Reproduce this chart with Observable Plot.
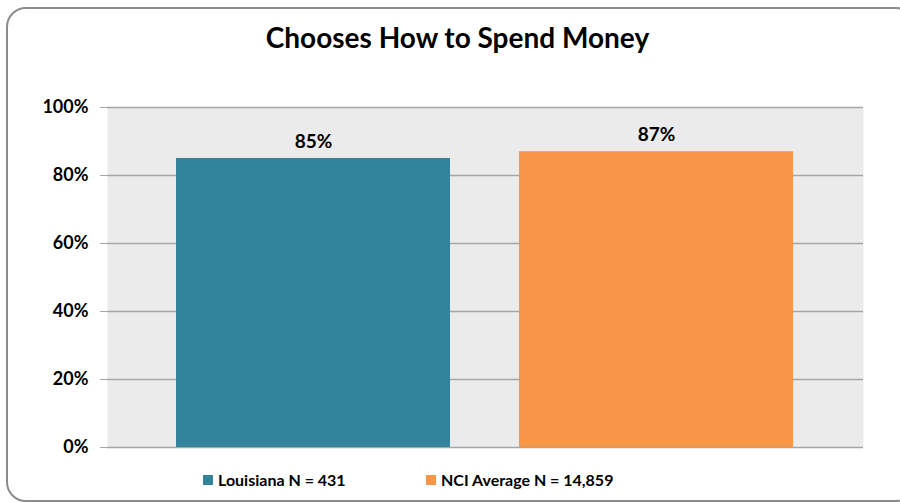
<!DOCTYPE html>
<html>
<head>
<meta charset="utf-8">
<script src="https://cdn.jsdelivr.net/npm/d3@7"></script>
<script src="https://cdn.jsdelivr.net/npm/@observablehq/plot@0.6"></script>
<style>
  html, body { margin: 0; padding: 0; background: #fff; }
  #wrap { position: relative; width: 900px; height: 503px; overflow: hidden; font-family: Lato, "Open Sans", sans-serif; }
  #border { position: absolute; left: 6px; top: 7px; width: 910px; height: 495px; border: 2px solid #8c8c8c; border-radius: 20px; box-sizing: border-box; }
  #title { position: absolute; left: 0; width: 915px; top: 20px; text-align: center; font-weight: 700; font-size: 28px; color: #000; }
  #chart { position: absolute; left: 0; top: 0; }
  #legend { position: absolute; top: 470px; left: 0; width: 900px; font-weight: 700; font-size: 16px; color: #000; }
  .item { position: absolute; display: flex; align-items: center; white-space: nowrap; }
  .sw { width: 10px; height: 10px; margin-right: 5px; display: inline-block; }
</style>
</head>
<body>
<div id="wrap">
  <div id="chart"></div>
  <div id="border"></div>
  <div id="title">Chooses How to Spend Money</div>
  <div id="legend"></div>
</div>
<script>
const series = ["Louisiana N = 431", "NCI Average N = 14,859"];
const values = [85, 87];
const colors = ["#31849B", "#F79646"];
const yTicks = [0, 20, 40, 60, 80, 100];

const data = series.map((s, i) => ({series: s, value: values[i]}));

const chart = Plot.plot({
  width: 900,
  height: 503,
  marginLeft: 107,
  marginRight: 37,
  marginTop: 107,
  marginBottom: 56,
  style: {fontFamily: "Lato, 'Open Sans', sans-serif", background: "transparent", overflow: "visible"},
  x: {domain: series, padding: 0.2, axis: null},
  y: {domain: [0, 100], axis: null},
  color: {domain: series, range: colors},
  marks: [
    Plot.frame({fill: "#EBEBEB", stroke: null}),
    Plot.ruleY(yTicks, {stroke: "#A6A6A6", strokeWidth: 1.5}),
    Plot.barY(data, {x: "series", y: "value", fill: "series"}),
    Plot.ruleX([0], {frameAnchor: "left", stroke: "#A6A6A6", strokeWidth: 1.5}),
    Plot.axisY({ticks: yTicks, tickFormat: d => d + "%", tickSize: 7, tickPadding: 12, stroke: "#A6A6A6", fontSize: 18, fontWeight: "bold", fill: "#000", label: null}),
    Plot.text(data, {x: "series", y: "value", text: d => d.value + "%", dy: -17, fontSize: 19, fontWeight: "bold", fill: "#000"})
  ]
});
document.getElementById("chart").appendChild(chart);

const legend = document.getElementById("legend");
const lefts = [203, 426];
series.forEach((s, i) => {
  const it = document.createElement("div");
  it.className = "item";
  it.style.left = lefts[i] + "px";
  it.innerHTML = `<span class="sw" style="background:${colors[i]}"></span><span>${s}</span>`;
  legend.appendChild(it);
});
</script>
</body>
</html>
